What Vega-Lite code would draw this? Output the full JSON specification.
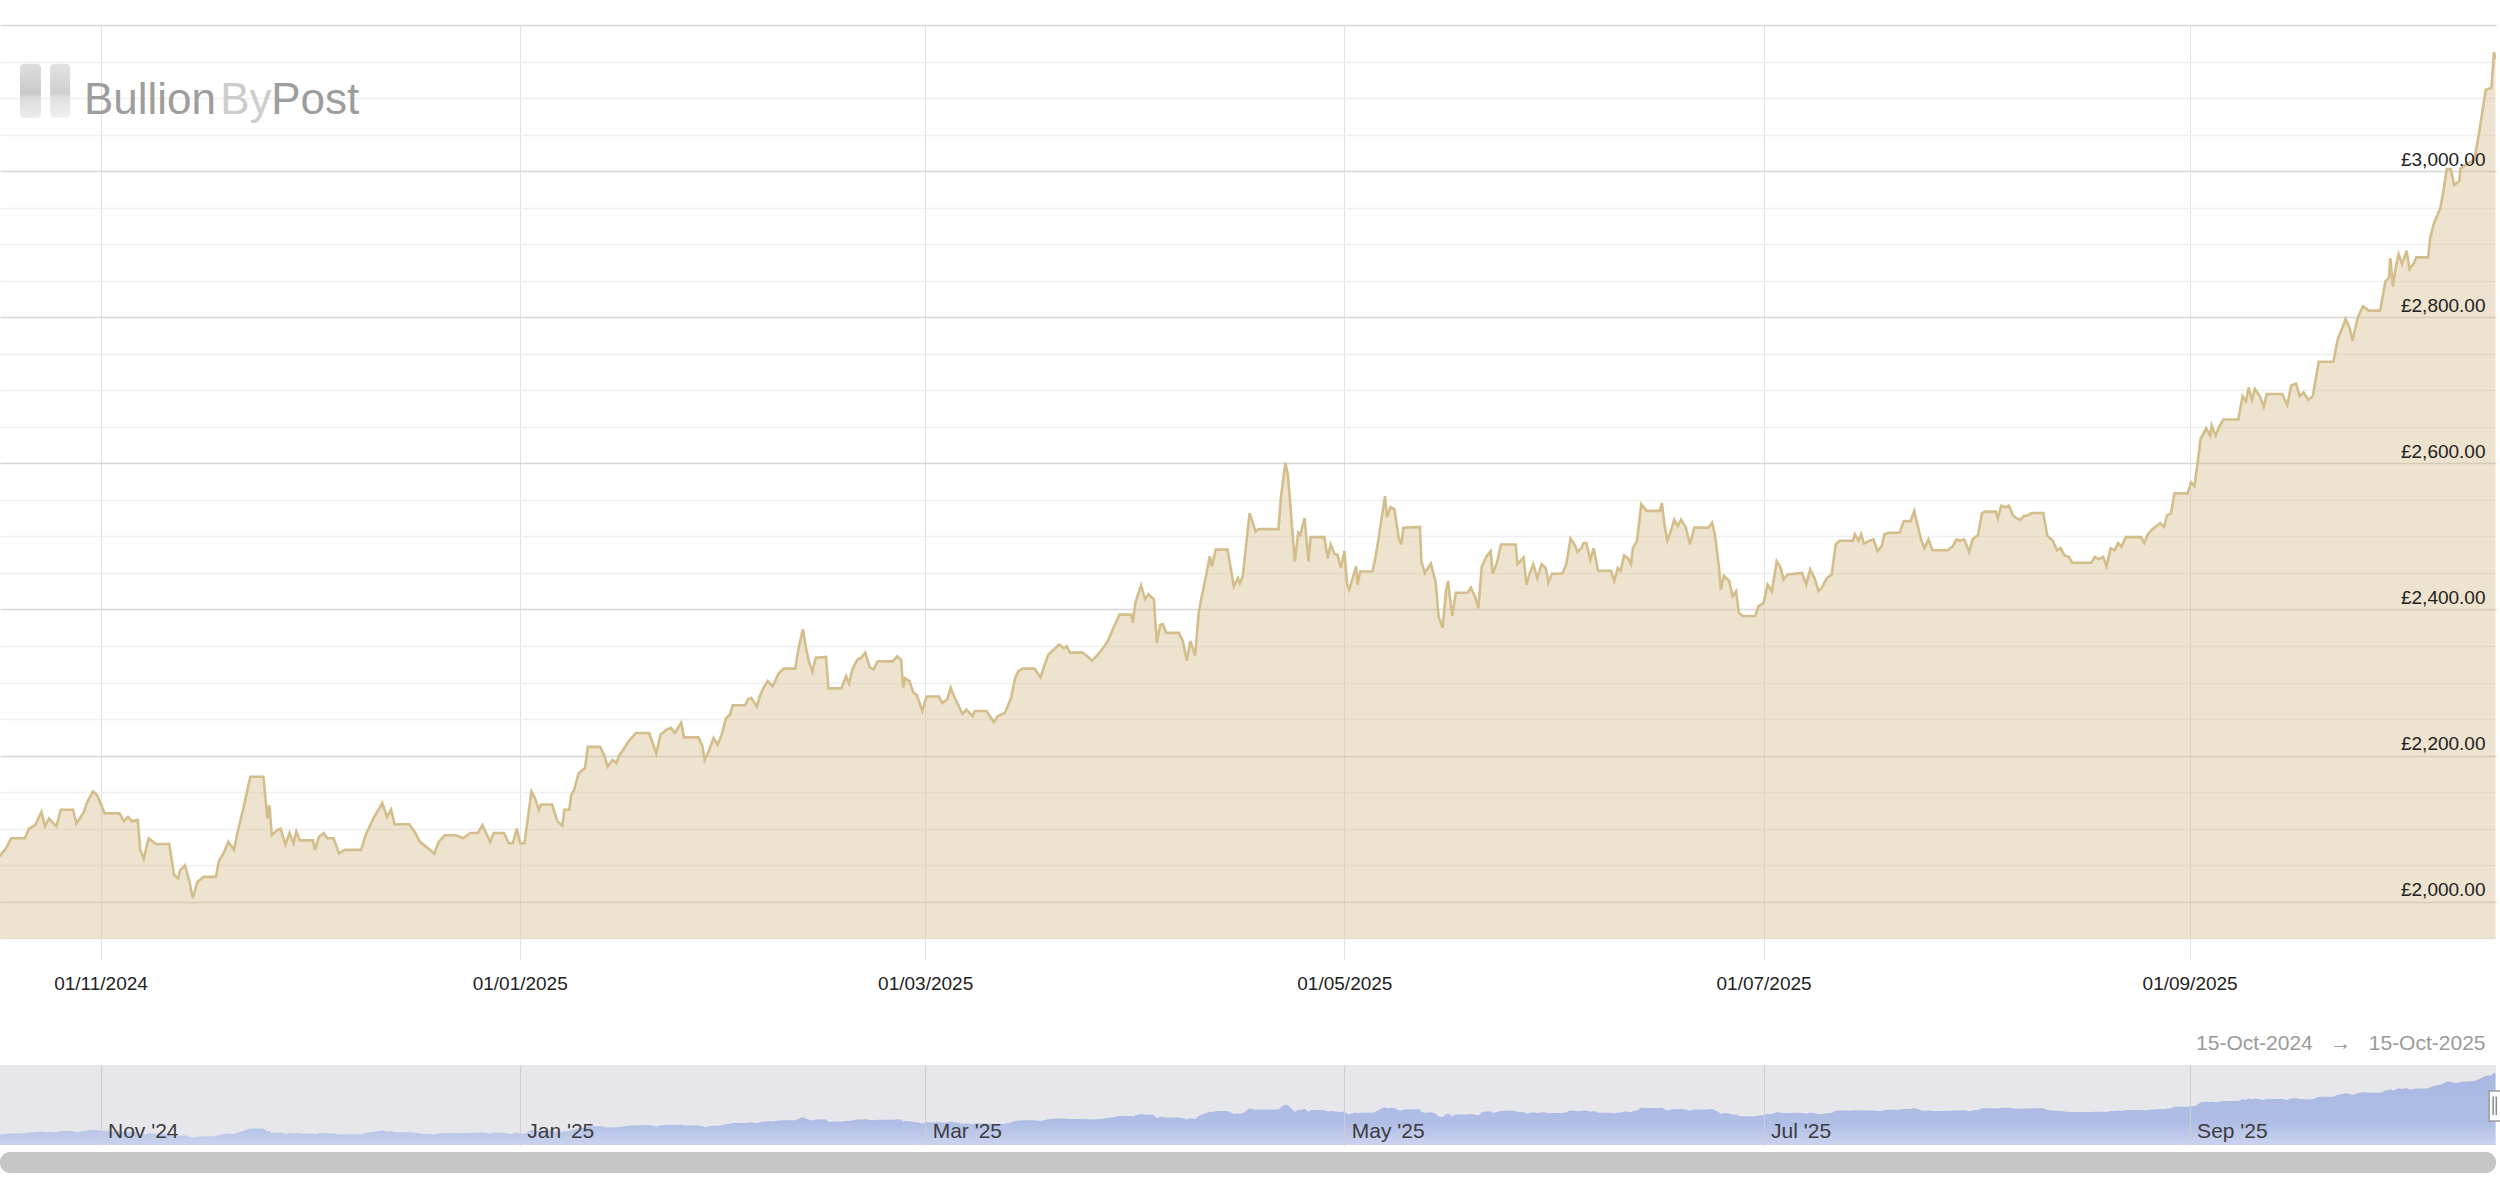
{
"$schema":"https://vega.github.io/schema/vega-lite/v6.json",
"padding":{"top":25,"left":0,"right":0,"bottom":0},
"background":"white",
"config":{"font":"Liberation Sans","view":{"stroke":null}},
"datasets":{"gold":[
{"d":"2024-10-17T07:00Z","v":2062},{"d":"2024-10-18T06:00Z","v":2073},{"d":"2024-10-19T00:00Z","v":2087},{"d":"2024-10-21T00:00Z","v":2087},{"d":"2024-10-21T14:00Z","v":2100},{"d":"2024-10-22T12:00Z","v":2105},{"d":"2024-10-23T10:00Z","v":2123},{"d":"2024-10-23T22:00Z","v":2103},{"d":"2024-10-24T12:00Z","v":2114},{"d":"2024-10-25T14:00Z","v":2103},{"d":"2024-10-26T05:00Z","v":2126},{"d":"2024-10-28T00:00Z","v":2126},{"d":"2024-10-28T12:00Z","v":2107},{"d":"2024-10-29T14:00Z","v":2123},{"d":"2024-10-30T00:00Z","v":2135},{"d":"2024-10-30T22:00Z","v":2151},{"d":"2024-10-31T12:00Z","v":2146},
{"d":"2024-11-01T00:00Z","v":2135},{"d":"2024-11-01T14:00Z","v":2121},{"d":"2024-11-03T18:00Z","v":2121},{"d":"2024-11-04T10:00Z","v":2110},{"d":"2024-11-05T00:00Z","v":2116},{"d":"2024-11-05T14:00Z","v":2110},{"d":"2024-11-06T10:00Z","v":2112},{"d":"2024-11-06T19:00Z","v":2071},{"d":"2024-11-07T07:00Z","v":2059},{"d":"2024-11-08T00:00Z","v":2087},{"d":"2024-11-09T02:00Z","v":2079},{"d":"2024-11-11T00:00Z","v":2079},{"d":"2024-11-11T17:00Z","v":2037},{"d":"2024-11-12T07:00Z","v":2032},{"d":"2024-11-12T14:00Z","v":2043},{"d":"2024-11-13T07:00Z","v":2050},{"d":"2024-11-13T23:00Z","v":2027},{"d":"2024-11-14T10:00Z","v":2005},{"d":"2024-11-15T02:00Z","v":2027},{"d":"2024-11-16T00:00Z","v":2034},{"d":"2024-11-17T19:00Z","v":2034},{"d":"2024-11-18T05:00Z","v":2055},{"d":"2024-11-19T00:00Z","v":2068},{"d":"2024-11-19T14:00Z","v":2082},{"d":"2024-11-20T10:00Z","v":2071},{"d":"2024-11-20T22:00Z","v":2094},{"d":"2024-11-21T19:00Z","v":2128},{"d":"2024-11-22T19:00Z","v":2171},{"d":"2024-11-24T17:00Z","v":2171},{"d":"2024-11-25T07:00Z","v":2114},{"d":"2024-11-25T14:00Z","v":2132},{"d":"2024-11-25T22:00Z","v":2091},{"d":"2024-11-26T17:00Z","v":2098},{"d":"2024-11-27T05:00Z","v":2100},{"d":"2024-11-27T22:00Z","v":2078},{"d":"2024-11-28T12:00Z","v":2094},{"d":"2024-11-29T02:00Z","v":2080},{"d":"2024-11-29T12:00Z","v":2096},{"d":"2024-11-30T00:00Z","v":2084},
{"d":"2024-12-01T22:00Z","v":2084},{"d":"2024-12-02T05:00Z","v":2071},{"d":"2024-12-02T19:00Z","v":2089},{"d":"2024-12-03T12:00Z","v":2094},{"d":"2024-12-04T00:00Z","v":2087},{"d":"2024-12-04T22:00Z","v":2087},{"d":"2024-12-05T17:00Z","v":2066},{"d":"2024-12-06T12:00Z","v":2071},{"d":"2024-12-08T22:00Z","v":2071},{"d":"2024-12-09T14:00Z","v":2091},{"d":"2024-12-10T17:00Z","v":2114},{"d":"2024-12-12T00:00Z","v":2135},{"d":"2024-12-12T17:00Z","v":2116},{"d":"2024-12-13T07:00Z","v":2126},{"d":"2024-12-13T19:00Z","v":2106},{"d":"2024-12-15T22:00Z","v":2106},{"d":"2024-12-16T17:00Z","v":2096},{"d":"2024-12-17T12:00Z","v":2082},{"d":"2024-12-19T14:00Z","v":2066},{"d":"2024-12-20T05:00Z","v":2082},{"d":"2024-12-21T02:00Z","v":2091},{"d":"2024-12-22T17:00Z","v":2091},{"d":"2024-12-23T19:00Z","v":2087},{"d":"2024-12-24T19:00Z","v":2094},{"d":"2024-12-25T22:00Z","v":2094},{"d":"2024-12-26T14:00Z","v":2105},{"d":"2024-12-27T17:00Z","v":2082},{"d":"2024-12-28T05:00Z","v":2094},{"d":"2024-12-29T17:00Z","v":2094},{"d":"2024-12-30T10:00Z","v":2080},{"d":"2024-12-31T00:00Z","v":2080},{"d":"2024-12-31T14:00Z","v":2100},
{"d":"2025-01-01T02:00Z","v":2080},{"d":"2025-01-01T17:00Z","v":2080},{"d":"2025-01-02T17:00Z","v":2151},{"d":"2025-01-03T05:00Z","v":2142},{"d":"2025-01-03T19:00Z","v":2126},{"d":"2025-01-04T02:00Z","v":2133},{"d":"2025-01-05T17:00Z","v":2133},{"d":"2025-01-06T12:00Z","v":2110},{"d":"2025-01-07T05:00Z","v":2104},{"d":"2025-01-07T12:00Z","v":2126},{"d":"2025-01-08T05:00Z","v":2126},{"d":"2025-01-08T12:00Z","v":2146},{"d":"2025-01-08T22:00Z","v":2153},{"d":"2025-01-09T14:00Z","v":2176},{"d":"2025-01-10T12:00Z","v":2183},{"d":"2025-01-10T22:00Z","v":2212},{"d":"2025-01-12T17:00Z","v":2212},{"d":"2025-01-13T07:00Z","v":2201},{"d":"2025-01-13T19:00Z","v":2185},{"d":"2025-01-14T12:00Z","v":2194},{"d":"2025-01-15T02:00Z","v":2190},{"d":"2025-01-15T12:00Z","v":2201},{"d":"2025-01-16T02:00Z","v":2208},{"d":"2025-01-16T19:00Z","v":2219},{"d":"2025-01-17T22:00Z","v":2231},{"d":"2025-01-19T20:00Z","v":2231},{"d":"2025-01-20T07:00Z","v":2219},{"d":"2025-01-20T21:00Z","v":2203},{"d":"2025-01-21T12:00Z","v":2229},{"d":"2025-01-22T07:00Z","v":2235},{"d":"2025-01-23T00:00Z","v":2238},{"d":"2025-01-23T14:00Z","v":2231},{"d":"2025-01-24T12:00Z","v":2245},{"d":"2025-01-24T22:00Z","v":2225},{"d":"2025-01-27T00:00Z","v":2225},{"d":"2025-01-27T14:00Z","v":2213},{"d":"2025-01-27T22:00Z","v":2194},{"d":"2025-01-28T12:00Z","v":2206},{"d":"2025-01-29T05:00Z","v":2224},{"d":"2025-01-29T19:00Z","v":2215},{"d":"2025-01-30T10:00Z","v":2229},{"d":"2025-01-31T00:00Z","v":2251},{"d":"2025-01-31T14:00Z","v":2256},
{"d":"2025-02-01T00:00Z","v":2269},{"d":"2025-02-02T19:00Z","v":2269},{"d":"2025-02-03T05:00Z","v":2277},{"d":"2025-02-03T17:00Z","v":2279},{"d":"2025-02-04T12:00Z","v":2267},{"d":"2025-02-04T22:00Z","v":2281},{"d":"2025-02-05T12:00Z","v":2293},{"d":"2025-02-06T02:00Z","v":2302},{"d":"2025-02-06T19:00Z","v":2295},{"d":"2025-02-07T17:00Z","v":2313},{"d":"2025-02-08T10:00Z","v":2319},{"d":"2025-02-10T02:00Z","v":2319},{"d":"2025-02-10T14:00Z","v":2347},{"d":"2025-02-11T05:00Z","v":2373},{"d":"2025-02-11T17:00Z","v":2345},{"d":"2025-02-12T02:00Z","v":2329},{"d":"2025-02-12T14:00Z","v":2315},{"d":"2025-02-13T02:00Z","v":2334},{"d":"2025-02-14T14:00Z","v":2335},{"d":"2025-02-14T22:00Z","v":2292},{"d":"2025-02-16T19:00Z","v":2292},{"d":"2025-02-17T12:00Z","v":2309},{"d":"2025-02-17T22:00Z","v":2299},{"d":"2025-02-18T10:00Z","v":2318},{"d":"2025-02-19T02:00Z","v":2331},{"d":"2025-02-19T17:00Z","v":2334},{"d":"2025-02-20T07:00Z","v":2341},{"d":"2025-02-20T22:00Z","v":2321},{"d":"2025-02-21T12:00Z","v":2318},{"d":"2025-02-22T02:00Z","v":2329},{"d":"2025-02-24T07:00Z","v":2329},{"d":"2025-02-24T22:00Z","v":2336},{"d":"2025-02-25T12:00Z","v":2331},{"d":"2025-02-25T19:00Z","v":2293},{"d":"2025-02-26T02:00Z","v":2306},{"d":"2025-02-26T17:00Z","v":2302},{"d":"2025-02-27T07:00Z","v":2286},{"d":"2025-02-27T19:00Z","v":2283},{"d":"2025-02-28T14:00Z","v":2261},
{"d":"2025-03-01T05:00Z","v":2281},{"d":"2025-03-03T00:00Z","v":2281},{"d":"2025-03-03T12:00Z","v":2272},{"d":"2025-03-04T05:00Z","v":2277},{"d":"2025-03-04T17:00Z","v":2293},{"d":"2025-03-05T05:00Z","v":2281},{"d":"2025-03-05T19:00Z","v":2270},{"d":"2025-03-06T10:00Z","v":2257},{"d":"2025-03-07T00:00Z","v":2263},{"d":"2025-03-07T22:00Z","v":2254},{"d":"2025-03-08T05:00Z","v":2261},{"d":"2025-03-09T22:00Z","v":2261},{"d":"2025-03-11T00:00Z","v":2246},{"d":"2025-03-11T14:00Z","v":2254},{"d":"2025-03-12T14:00Z","v":2258},{"d":"2025-03-13T12:00Z","v":2279},{"d":"2025-03-14T02:00Z","v":2306},{"d":"2025-03-14T14:00Z","v":2316},{"d":"2025-03-15T05:00Z","v":2319},{"d":"2025-03-16T22:00Z","v":2319},{"d":"2025-03-17T19:00Z","v":2307},{"d":"2025-03-18T10:00Z","v":2325},{"d":"2025-03-18T22:00Z","v":2338},{"d":"2025-03-19T17:00Z","v":2345},{"d":"2025-03-20T12:00Z","v":2352},{"d":"2025-03-21T05:00Z","v":2347},{"d":"2025-03-21T14:00Z","v":2350},{"d":"2025-03-22T02:00Z","v":2341},{"d":"2025-03-23T22:00Z","v":2341},{"d":"2025-03-24T14:00Z","v":2336},{"d":"2025-03-25T07:00Z","v":2330},{"d":"2025-03-26T02:00Z","v":2338},{"d":"2025-03-26T17:00Z","v":2345},{"d":"2025-03-27T14:00Z","v":2357},{"d":"2025-03-28T12:00Z","v":2377},{"d":"2025-03-29T07:00Z","v":2393},{"d":"2025-03-31T00:00Z","v":2393},{"d":"2025-03-31T05:00Z","v":2382},{"d":"2025-03-31T14:00Z","v":2409},
{"d":"2025-04-01T10:00Z","v":2433},{"d":"2025-04-02T00:00Z","v":2414},{"d":"2025-04-02T12:00Z","v":2421},{"d":"2025-04-03T07:00Z","v":2414},{"d":"2025-04-03T17:00Z","v":2354},{"d":"2025-04-04T05:00Z","v":2379},{"d":"2025-04-04T14:00Z","v":2380},{"d":"2025-04-05T02:00Z","v":2368},{"d":"2025-04-06T22:00Z","v":2368},{"d":"2025-04-07T12:00Z","v":2357},{"d":"2025-04-08T02:00Z","v":2330},{"d":"2025-04-08T14:00Z","v":2357},{"d":"2025-04-09T07:00Z","v":2337},{"d":"2025-04-09T19:00Z","v":2395},{"d":"2025-04-10T05:00Z","v":2416},{"d":"2025-04-10T22:00Z","v":2448},{"d":"2025-04-11T10:00Z","v":2473},{"d":"2025-04-11T17:00Z","v":2459},{"d":"2025-04-12T07:00Z","v":2482},{"d":"2025-04-14T00:00Z","v":2482},{"d":"2025-04-14T22:00Z","v":2432},{"d":"2025-04-15T12:00Z","v":2443},{"d":"2025-04-15T19:00Z","v":2436},{"d":"2025-04-16T05:00Z","v":2445},{"d":"2025-04-17T05:00Z","v":2532},{"d":"2025-04-18T02:00Z","v":2507},{"d":"2025-04-18T12:00Z","v":2510},{"d":"2025-04-21T10:00Z","v":2510},{"d":"2025-04-21T19:00Z","v":2555},{"d":"2025-04-22T10:00Z","v":2601},{"d":"2025-04-22T19:00Z","v":2584},{"d":"2025-04-23T19:00Z","v":2466},{"d":"2025-04-24T07:00Z","v":2505},{"d":"2025-04-24T14:00Z","v":2502},{"d":"2025-04-25T05:00Z","v":2525},{"d":"2025-04-25T19:00Z","v":2466},{"d":"2025-04-26T02:00Z","v":2499},{"d":"2025-04-28T02:00Z","v":2499},{"d":"2025-04-28T14:00Z","v":2470},{"d":"2025-04-29T00:00Z","v":2489},{"d":"2025-04-29T14:00Z","v":2476},{"d":"2025-04-30T00:00Z","v":2475},{"d":"2025-04-30T12:00Z","v":2457},
{"d":"2025-05-01T00:00Z","v":2480},{"d":"2025-05-01T10:00Z","v":2434},{"d":"2025-05-01T17:00Z","v":2427},{"d":"2025-05-02T17:00Z","v":2459},{"d":"2025-05-02T22:00Z","v":2434},{"d":"2025-05-03T07:00Z","v":2452},{"d":"2025-05-05T02:00Z","v":2452},{"d":"2025-05-05T10:00Z","v":2466},{"d":"2025-05-06T00:00Z","v":2498},{"d":"2025-05-06T12:00Z","v":2530},{"d":"2025-05-06T22:00Z","v":2555},{"d":"2025-05-07T05:00Z","v":2526},{"d":"2025-05-07T17:00Z","v":2540},{"d":"2025-05-08T07:00Z","v":2537},{"d":"2025-05-08T22:00Z","v":2498},{"d":"2025-05-09T07:00Z","v":2489},{"d":"2025-05-09T14:00Z","v":2512},{"d":"2025-05-12T00:00Z","v":2513},{"d":"2025-05-12T05:00Z","v":2466},{"d":"2025-05-12T17:00Z","v":2450},{"d":"2025-05-13T14:00Z","v":2463},{"d":"2025-05-14T07:00Z","v":2437},{"d":"2025-05-14T17:00Z","v":2391},{"d":"2025-05-15T07:00Z","v":2375},{"d":"2025-05-15T19:00Z","v":2425},{"d":"2025-05-16T02:00Z","v":2439},{"d":"2025-05-16T17:00Z","v":2391},{"d":"2025-05-17T05:00Z","v":2423},{"d":"2025-05-18T22:00Z","v":2423},{"d":"2025-05-19T10:00Z","v":2430},{"d":"2025-05-20T02:00Z","v":2416},{"d":"2025-05-20T12:00Z","v":2402},{"d":"2025-05-21T00:00Z","v":2459},{"d":"2025-05-21T17:00Z","v":2473},{"d":"2025-05-22T07:00Z","v":2480},{"d":"2025-05-22T14:00Z","v":2449},{"d":"2025-05-23T05:00Z","v":2464},{"d":"2025-05-23T19:00Z","v":2489},{"d":"2025-05-25T22:00Z","v":2489},{"d":"2025-05-26T05:00Z","v":2462},{"d":"2025-05-27T02:00Z","v":2471},{"d":"2025-05-27T12:00Z","v":2434},{"d":"2025-05-28T00:00Z","v":2450},{"d":"2025-05-28T12:00Z","v":2462},{"d":"2025-05-29T02:00Z","v":2443},{"d":"2025-05-29T17:00Z","v":2462},{"d":"2025-05-30T07:00Z","v":2457},{"d":"2025-05-30T17:00Z","v":2437},{"d":"2025-05-31T05:00Z","v":2449},
{"d":"2025-06-01T17:00Z","v":2449},{"d":"2025-06-02T07:00Z","v":2462},{"d":"2025-06-02T22:00Z","v":2497},{"d":"2025-06-03T12:00Z","v":2489},{"d":"2025-06-03T22:00Z","v":2479},{"d":"2025-06-04T12:00Z","v":2484},{"d":"2025-06-04T19:00Z","v":2491},{"d":"2025-06-05T05:00Z","v":2491},{"d":"2025-06-05T19:00Z","v":2468},{"d":"2025-06-06T07:00Z","v":2484},{"d":"2025-06-06T22:00Z","v":2453},{"d":"2025-06-08T19:00Z","v":2453},{"d":"2025-06-09T07:00Z","v":2439},{"d":"2025-06-09T19:00Z","v":2457},{"d":"2025-06-10T05:00Z","v":2453},{"d":"2025-06-10T17:00Z","v":2474},{"d":"2025-06-11T05:00Z","v":2471},{"d":"2025-06-11T17:00Z","v":2462},{"d":"2025-06-12T00:00Z","v":2484},{"d":"2025-06-12T14:00Z","v":2494},{"d":"2025-06-13T05:00Z","v":2544},{"d":"2025-06-14T00:00Z","v":2535},{"d":"2025-06-15T22:00Z","v":2535},{"d":"2025-06-16T05:00Z","v":2546},{"d":"2025-06-16T14:00Z","v":2516},{"d":"2025-06-17T00:00Z","v":2494},{"d":"2025-06-17T12:00Z","v":2507},{"d":"2025-06-18T00:00Z","v":2523},{"d":"2025-06-18T12:00Z","v":2514},{"d":"2025-06-19T00:00Z","v":2523},{"d":"2025-06-19T17:00Z","v":2512},{"d":"2025-06-20T07:00Z","v":2489},{"d":"2025-06-20T22:00Z","v":2512},{"d":"2025-06-23T00:00Z","v":2512},{"d":"2025-06-23T12:00Z","v":2519},{"d":"2025-06-23T22:00Z","v":2503},{"d":"2025-06-24T12:00Z","v":2459},{"d":"2025-06-24T19:00Z","v":2427},{"d":"2025-06-25T05:00Z","v":2446},{"d":"2025-06-26T00:00Z","v":2439},{"d":"2025-06-26T12:00Z","v":2418},{"d":"2025-06-27T00:00Z","v":2425},{"d":"2025-06-27T10:00Z","v":2395},{"d":"2025-06-28T00:00Z","v":2391},{"d":"2025-06-29T19:00Z","v":2391},{"d":"2025-06-30T05:00Z","v":2404},
{"d":"2025-07-01T00:00Z","v":2409},{"d":"2025-07-01T14:00Z","v":2434},{"d":"2025-07-02T05:00Z","v":2425},{"d":"2025-07-02T22:00Z","v":2466},{"d":"2025-07-03T12:00Z","v":2457},{"d":"2025-07-03T22:00Z","v":2441},{"d":"2025-07-04T12:00Z","v":2448},{"d":"2025-07-06T14:00Z","v":2450},{"d":"2025-07-07T05:00Z","v":2434},{"d":"2025-07-07T19:00Z","v":2455},{"d":"2025-07-08T10:00Z","v":2443},{"d":"2025-07-09T00:00Z","v":2425},{"d":"2025-07-09T12:00Z","v":2430},{"d":"2025-07-10T05:00Z","v":2443},{"d":"2025-07-10T22:00Z","v":2448},{"d":"2025-07-11T12:00Z","v":2489},{"d":"2025-07-12T02:00Z","v":2494},{"d":"2025-07-14T00:00Z","v":2494},{"d":"2025-07-14T07:00Z","v":2503},{"d":"2025-07-14T19:00Z","v":2494},{"d":"2025-07-15T05:00Z","v":2503},{"d":"2025-07-15T14:00Z","v":2490},{"d":"2025-07-16T10:00Z","v":2494},{"d":"2025-07-17T00:00Z","v":2496},{"d":"2025-07-17T14:00Z","v":2480},{"d":"2025-07-18T05:00Z","v":2487},{"d":"2025-07-18T14:00Z","v":2503},{"d":"2025-07-19T05:00Z","v":2505},{"d":"2025-07-20T19:00Z","v":2505},{"d":"2025-07-21T10:00Z","v":2521},{"d":"2025-07-22T10:00Z","v":2521},{"d":"2025-07-22T22:00Z","v":2535},{"d":"2025-07-23T22:00Z","v":2496},{"d":"2025-07-24T10:00Z","v":2484},{"d":"2025-07-25T00:00Z","v":2496},{"d":"2025-07-25T14:00Z","v":2481},{"d":"2025-07-27T19:00Z","v":2481},{"d":"2025-07-28T12:00Z","v":2486},{"d":"2025-07-29T02:00Z","v":2496},{"d":"2025-07-29T14:00Z","v":2494},{"d":"2025-07-30T05:00Z","v":2496},{"d":"2025-07-30T22:00Z","v":2479},{"d":"2025-07-31T10:00Z","v":2496},
{"d":"2025-08-01T05:00Z","v":2502},{"d":"2025-08-01T19:00Z","v":2532},{"d":"2025-08-02T05:00Z","v":2534},{"d":"2025-08-03T19:00Z","v":2534},{"d":"2025-08-04T02:00Z","v":2525},{"d":"2025-08-04T14:00Z","v":2542},{"d":"2025-08-05T05:00Z","v":2540},{"d":"2025-08-05T17:00Z","v":2542},{"d":"2025-08-06T07:00Z","v":2529},{"d":"2025-08-06T19:00Z","v":2525},{"d":"2025-08-07T10:00Z","v":2523},{"d":"2025-08-07T22:00Z","v":2528},{"d":"2025-08-08T12:00Z","v":2529},{"d":"2025-08-09T00:00Z","v":2532},{"d":"2025-08-10T17:00Z","v":2532},{"d":"2025-08-11T07:00Z","v":2501},{"d":"2025-08-12T02:00Z","v":2494},{"d":"2025-08-12T17:00Z","v":2481},{"d":"2025-08-13T05:00Z","v":2484},{"d":"2025-08-13T19:00Z","v":2474},{"d":"2025-08-14T10:00Z","v":2472},{"d":"2025-08-14T22:00Z","v":2464},{"d":"2025-08-17T17:00Z","v":2464},{"d":"2025-08-18T05:00Z","v":2472},{"d":"2025-08-18T19:00Z","v":2469},{"d":"2025-08-19T10:00Z","v":2472},{"d":"2025-08-19T22:00Z","v":2459},{"d":"2025-08-20T12:00Z","v":2484},{"d":"2025-08-21T02:00Z","v":2481},{"d":"2025-08-21T14:00Z","v":2491},{"d":"2025-08-22T02:00Z","v":2486},{"d":"2025-08-22T17:00Z","v":2499},{"d":"2025-08-24T22:00Z","v":2499},{"d":"2025-08-25T10:00Z","v":2491},{"d":"2025-08-25T22:00Z","v":2503},{"d":"2025-08-26T14:00Z","v":2510},{"d":"2025-08-27T07:00Z","v":2515},{"d":"2025-08-27T17:00Z","v":2518},{"d":"2025-08-28T07:00Z","v":2513},{"d":"2025-08-28T17:00Z","v":2529},{"d":"2025-08-29T07:00Z","v":2532},{"d":"2025-08-29T19:00Z","v":2559},{"d":"2025-08-31T17:00Z","v":2559},
{"d":"2025-09-01T05:00Z","v":2574},{"d":"2025-09-01T17:00Z","v":2569},{"d":"2025-09-02T05:00Z","v":2604},{"d":"2025-09-02T14:00Z","v":2633},{"d":"2025-09-03T10:00Z","v":2648},{"d":"2025-09-04T00:00Z","v":2638},{"d":"2025-09-04T05:00Z","v":2652},{"d":"2025-09-04T19:00Z","v":2638},{"d":"2025-09-05T07:00Z","v":2650},{"d":"2025-09-05T22:00Z","v":2660},{"d":"2025-09-08T02:00Z","v":2660},{"d":"2025-09-08T17:00Z","v":2692},{"d":"2025-09-09T05:00Z","v":2685},{"d":"2025-09-09T14:00Z","v":2704},{"d":"2025-09-10T02:00Z","v":2687},{"d":"2025-09-10T12:00Z","v":2702},{"d":"2025-09-11T05:00Z","v":2692},{"d":"2025-09-11T19:00Z","v":2677},{"d":"2025-09-12T05:00Z","v":2695},{"d":"2025-09-14T12:00Z","v":2695},{"d":"2025-09-15T05:00Z","v":2680},{"d":"2025-09-15T19:00Z","v":2707},{"d":"2025-09-16T12:00Z","v":2709},{"d":"2025-09-17T00:00Z","v":2692},{"d":"2025-09-17T14:00Z","v":2697},{"d":"2025-09-18T07:00Z","v":2687},{"d":"2025-09-18T22:00Z","v":2692},{"d":"2025-09-19T19:00Z","v":2739},{"d":"2025-09-21T22:00Z","v":2739},{"d":"2025-09-22T14:00Z","v":2771},{"d":"2025-09-23T05:00Z","v":2785},{"d":"2025-09-23T17:00Z","v":2798},{"d":"2025-09-24T07:00Z","v":2785},{"d":"2025-09-24T17:00Z","v":2768},{"d":"2025-09-25T10:00Z","v":2798},{"d":"2025-09-26T05:00Z","v":2815},{"d":"2025-09-27T02:00Z","v":2809},{"d":"2025-09-28T17:00Z","v":2809},{"d":"2025-09-29T12:00Z","v":2849},{"d":"2025-09-30T00:00Z","v":2854},{"d":"2025-09-30T05:00Z","v":2881},{"d":"2025-09-30T14:00Z","v":2842},
{"d":"2025-10-01T00:00Z","v":2869},{"d":"2025-10-01T10:00Z","v":2886},{"d":"2025-10-01T22:00Z","v":2873},{"d":"2025-10-02T14:00Z","v":2891},{"d":"2025-10-03T00:00Z","v":2866},{"d":"2025-10-03T14:00Z","v":2873},{"d":"2025-10-04T00:00Z","v":2882},{"d":"2025-10-05T17:00Z","v":2882},{"d":"2025-10-06T00:00Z","v":2908},{"d":"2025-10-06T12:00Z","v":2927},{"d":"2025-10-07T12:00Z","v":2950},{"d":"2025-10-07T22:00Z","v":2972},{"d":"2025-10-08T10:00Z","v":3003},{"d":"2025-10-09T00:00Z","v":3003},{"d":"2025-10-09T12:00Z","v":2981},{"d":"2025-10-10T05:00Z","v":2986},{"d":"2025-10-10T10:00Z","v":3003},{"d":"2025-10-11T07:00Z","v":3010},{"d":"2025-10-12T10:00Z","v":3015},{"d":"2025-10-13T02:00Z","v":3050},{"d":"2025-10-14T02:00Z","v":3111},{"d":"2025-10-14T22:00Z","v":3114},{"d":"2025-10-15T07:00Z","v":3163},{"d":"2025-10-15T12:00Z","v":3153}
]},
"spacing":12,
"vconcat":[
{
"width":2496,"height":914,
"data":{"name":"gold"},
"layer":[
 {"mark":{"type":"area","fill":"#d6c293","fillOpacity":0.45,"stroke":null,"clip":true},
  "encoding":{
   "x":{"field":"d","type":"temporal",
    "scale":{"type":"utc","domain":[{"year":2024,"month":10,"date":17,"hours":9,"utc":true},{"year":2025,"month":10,"date":15,"hours":14,"utc":true}]},
    "axis":{"values":[{"year":2024,"month":11,"date":1,"utc":true},{"year":2025,"month":1,"date":1,"utc":true},{"year":2025,"month":3,"date":1,"utc":true},{"year":2025,"month":5,"date":1,"utc":true},{"year":2025,"month":7,"date":1,"utc":true},{"year":2025,"month":9,"date":1,"utc":true}],
     "format":"%d/%m/%Y","grid":true,"gridColor":"#e2e2e2","gridWidth":1,"tickSize":20,"tickColor":"#e2e2e2","domain":false,
     "labelFontSize":19,"labelColor":"#222222","labelBaseline":"alphabetic","labelPadding":30,"labelFlush":false,"labelOverlap":false,
     "title":"15-Oct-2024\u00a0\u00a0\u00a0→\u00a0\u00a0\u00a015-Oct-2025","titleFontSize":21,"titleFontWeight":"normal","titleColor":"#9a9a9a","titleAlign":"right","titleBaseline":"alphabetic","titleX":2485,"titleY":110}},
   "y":{"field":"v","type":"quantitative","scale":{"domain":[1949,3200],"zero":false,"nice":false},
    "axis":{"orient":"left","values":[1950,2000,2050,2100,2150,2200,2250,2300,2350,2400,2450,2500,2550,2600,2650,2700,2750,2800,2850,2900,2950,3000,3050,3100,3150,3200],"grid":true,
     "gridColor":{"condition":{"test":"datum.value % 200 === 0","value":"#d6d6d6"},"value":"#efefef"},"gridWidth":1.5,"labels":false,"ticks":false,"domain":false,"title":null}},
   "y2":{"datum":1949}}},
 {"mark":{"type":"line","stroke":"#d3be8c","strokeWidth":2.6,"clip":true},
  "encoding":{
   "x":{"field":"d","type":"temporal"},
   "y":{"field":"v","type":"quantitative",
    "axis":{"orient":"right","values":[2000,2200,2400,2600,2800,3000],"grid":false,"ticks":false,"tickSize":0,"domain":false,"title":null,"zindex":1,
     "labelAlign":"right","labelPadding":-11,"labelBaseline":"alphabetic","labelOffset":-6,"labelFontSize":19,"labelColor":"#222222","labelFlush":false,"labelOverlap":false,
     "labelExpr":"'£' + format(datum.value, ',.2f')"}}}},
 {"data":{"values":[{}]},"mark":{"type":"rect","cornerRadius":4,"fill":{"gradient":"linear","x1":0,"y1":0,"x2":0,"y2":1,"stops":[{"offset":0,"color":"#dedede"},{"offset":0.55,"color":"#c9c9c9"},{"offset":0.62,"color":"#dadada"},{"offset":1,"color":"#ececec"}]}},
  "encoding":{"x":{"datum":{"year":2024,"month":10,"date":20,"hours":7,"utc":true},"type":"temporal"},"x2":{"datum":{"year":2024,"month":10,"date":23,"hours":8,"utc":true}},
   "y":{"datum":3147,"type":"quantitative","axis":null},"y2":{"datum":3073}}},
 {"data":{"values":[{}]},"mark":{"type":"rect","cornerRadius":4,"fill":{"gradient":"linear","x1":0,"y1":0,"x2":0,"y2":1,"stops":[{"offset":0,"color":"#e2e2e2"},{"offset":0.55,"color":"#d0d0d0"},{"offset":0.62,"color":"#e0e0e0"},{"offset":1,"color":"#f0f0f0"}]}},
  "encoding":{"x":{"datum":{"year":2024,"month":10,"date":24,"hours":16,"utc":true},"type":"temporal"},"x2":{"datum":{"year":2024,"month":10,"date":27,"hours":14,"utc":true}},
   "y":{"datum":3147,"type":"quantitative","axis":null},"y2":{"datum":3073}}},
 {"data":{"values":[{}]},"mark":{"type":"text","text":"Bullion","font":"Liberation Sans","fontSize":44,"align":"left","baseline":"alphabetic","color":"#9d9d9d"},
  "encoding":{"x":{"datum":{"year":2024,"month":10,"date":29,"hours":14,"utc":true},"type":"temporal"},"y":{"datum":3078,"type":"quantitative","axis":null}}},
 {"data":{"values":[{}]},"mark":{"type":"text","text":"By","font":"Liberation Sans","fontSize":44,"align":"left","baseline":"alphabetic","color":"#cdcdcd"},
  "encoding":{"x":{"datum":{"year":2024,"month":11,"date":18,"hours":10,"utc":true},"type":"temporal"},"y":{"datum":3078,"type":"quantitative","axis":null}}},
 {"data":{"values":[{}]},"mark":{"type":"text","text":"Post","font":"Liberation Sans","fontSize":44,"align":"left","baseline":"alphabetic","color":"#9d9d9d"},
  "encoding":{"x":{"datum":{"year":2024,"month":11,"date":25,"hours":20,"utc":true},"type":"temporal"},"y":{"datum":3078,"type":"quantitative","axis":null}}}
],
"resolve":{"axis":{"y":"independent"}}
},
{
"spacing":7,
"vconcat":[
 {"width":2496,"height":80,
  "view":{"fill":"#e6e6eb","stroke":null},
  "layer":[
   {"data":{"name":"gold"},
    "mark":{"type":"area","clip":true,"stroke":null,"fill":{"gradient":"linear","x1":0,"y1":0,"x2":0,"y2":1,"stops":[{"offset":0,"color":"#a8b8e3"},{"offset":0.7,"color":"#b0bee6"},{"offset":1,"color":"#cbd3ef"}]}},
    "encoding":{
     "x":{"field":"d","type":"temporal","scale":{"type":"utc","domain":[{"year":2024,"month":10,"date":17,"hours":9,"utc":true},{"year":2025,"month":10,"date":15,"hours":14,"utc":true}]},
      "axis":{"values":[{"year":2024,"month":11,"date":1,"utc":true},{"year":2025,"month":1,"date":1,"utc":true},{"year":2025,"month":3,"date":1,"utc":true},{"year":2025,"month":5,"date":1,"utc":true},{"year":2025,"month":7,"date":1,"utc":true},{"year":2025,"month":9,"date":1,"utc":true}],
       "format":"%b '%y","grid":true,"gridColor":"#cdcdd3","gridWidth":1,"ticks":false,"tickSize":0,"domain":false,"title":null,"zindex":1,
       "labelAlign":"left","labelBaseline":"alphabetic","labelPadding":-8,"labelOffset":7,"labelFontSize":21,"labelColor":"#3c3c3c","labelFlush":false,"labelOverlap":false}},
     "y":{"field":"v","type":"quantitative","scale":{"domain":[1878,3302],"zero":false,"nice":false},"axis":null},
     "y2":{"datum":1878}}},
   {"data":{"values":[{}]},
    "mark":{"type":"rect","fill":"#ffffff","stroke":"#9a9a9a","strokeWidth":1.5},
    "encoding":{
     "x":{"datum":{"year":2025,"month":10,"date":14,"hours":14,"utc":true},"type":"temporal"},
     "x2":{"datum":{"year":2025,"month":10,"date":16,"hours":10,"utc":true}},
     "y":{"datum":2839,"type":"quantitative"},"y2":{"datum":2305}}},
   {"data":{"values":[{}]},
    "mark":{"type":"rule","stroke":"#8a8a8a","strokeWidth":1.5},
    "encoding":{
     "x":{"datum":{"year":2025,"month":10,"date":15,"hours":4,"utc":true},"type":"temporal"},
     "y":{"datum":2740,"type":"quantitative"},"y2":{"datum":2410}}},
   {"data":{"values":[{}]},
    "mark":{"type":"rule","stroke":"#8a8a8a","strokeWidth":1.5},
    "encoding":{
     "x":{"datum":{"year":2025,"month":10,"date":15,"hours":15,"utc":true},"type":"temporal"},
     "y":{"datum":2740,"type":"quantitative"},"y2":{"datum":2410}}}
  ]},
 {"width":2496,"height":21,
  "data":{"values":[{}]},
  "mark":{"type":"rect","fill":"#c6c6c6","cornerRadius":10},
  "encoding":{
   "x":{"datum":{"year":2024,"month":10,"date":17,"hours":9,"utc":true},"type":"temporal","scale":{"type":"utc","domain":[{"year":2024,"month":10,"date":17,"hours":9,"utc":true},{"year":2025,"month":10,"date":15,"hours":14,"utc":true}]},"axis":null},
   "x2":{"datum":{"year":2025,"month":10,"date":15,"hours":14,"utc":true}}}}
]
}
]
}
